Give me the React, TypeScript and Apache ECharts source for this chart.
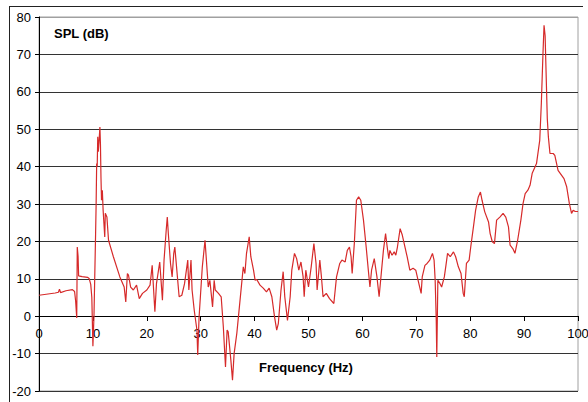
import React, { useEffect, useRef } from "react";
import * as echarts from "echarts";

const freq = [
  0, 1, 2, 3, 3.6, 3.8, 4.0, 5.0, 6.2, 6.6, 6.8, 7.0, 7.1, 7.25, 7.35, 8.0, 9.0, 9.3, 9.6, 9.8,
  10.0, 10.2, 10.5, 10.6, 10.7, 10.8, 10.9, 11.0, 11.15, 11.3, 11.4, 11.5, 11.6, 11.75, 11.9, 12.2, 12.3, 12.6, 12.9, 13.8,
  15.0, 15.8, 16.1, 16.4, 16.6, 17.0, 17.5, 18.1, 18.6, 19.2, 20.0, 20.6, 21.0, 21.5, 21.8, 22.4, 22.9, 23.2, 23.6, 23.8,
  24.0, 24.4, 24.7, 25.0, 25.2, 26.0, 26.5, 27.0, 27.6, 27.8, 28.2, 28.4, 28.8, 29.3, 29.45, 29.7, 30.3, 30.8, 31.1, 31.4,
  31.7, 32.2, 32.5, 32.7, 33.3, 33.8, 34.2, 34.6, 34.9, 35.1, 35.6, 35.9, 36.2, 36.7, 37.3, 37.9, 38.2, 38.5, 39.0, 39.3,
  39.8, 40.1, 40.4, 41.0, 41.6, 42.2, 42.7, 43.2, 43.7, 44.1, 44.4, 44.9, 45.3, 45.6, 46.1, 46.6, 46.9, 47.4, 47.8, 48.2,
  48.6, 49.0, 49.2, 49.5, 50.0, 50.5, 51.0, 51.4, 51.6, 52.1, 52.4, 52.7, 53.3, 53.9, 54.7, 55.2, 55.8, 56.2, 56.8, 57.2,
  57.6, 57.9, 58.1, 58.5, 58.9, 59.3, 59.7, 60.2, 60.7, 61.1, 61.4, 61.7, 62.2, 62.7, 63.1, 63.5, 63.9, 64.3, 64.6, 64.9,
  65.1, 65.5, 65.9, 66.2, 66.5, 67.0, 67.4, 67.9, 68.3, 68.8, 69.4, 69.9, 70.4, 70.9, 71.1, 71.6, 72.0, 72.5, 73.0, 73.3,
  73.5, 73.7, 73.8, 74.0, 74.4, 74.7, 75.2, 75.5, 75.8, 76.3, 76.9, 77.3, 77.8, 78.3, 78.7, 78.9, 79.3, 79.8, 80.1, 80.6,
  81.0, 81.5, 81.9, 82.2, 82.7, 83.4, 83.7, 84.1, 84.5, 84.9, 85.5, 86.1, 86.6, 87.1, 87.4, 87.9, 88.3, 88.8, 89.4, 89.8,
  90.2, 90.7, 91.1, 91.5, 91.9, 92.3, 92.9, 93.2, 93.5, 93.7, 93.9, 94.1, 94.3, 94.5, 94.8, 95.4, 95.7, 96.3, 96.7, 97.4,
  97.9, 98.4, 98.8, 99.1, 99.5, 100,
];

const spl = [
  5.6, 5.8, 6.0, 6.2, 6.4, 7.2, 6.3, 6.8, 7.1, 6.6, 4, -0.5, 18.5, 16, 10.8, 10.6, 10.4, 10.1, 8.5, 5,
  -8, 0, 22, 30, 40.8, 40, 48, 44, 47, 50.6, 46, 37, 31, 33.7, 28.3, 21.2, 27.5, 26.5, 20.3, 15.9,
  10.5, 7.8, 3.8, 11.4, 11, 7.8, 7, 8.3, 4.7, 6.1, 7, 8.3, 13.6, 1.2, 8.8, 14.5, 4.3, 15, 23, 26.5,
  22, 14.1, 10.5, 16.8, 18.5, 5.2, 5.6, 8.7, 15, 7, 15, 7, 1.6, -3.7, -10.4, -0.2, 13.2, 20.3, 14.1, 7.8,
  9.6, 2.5, 9.6, 7, 6.1, 5.2, -2.9, -13.6, -3.7, -4.2, -11.8, -17.1, -10, -4.6, 4.3, 13.2, 11.4, 16.8, 21.2, 15.9,
  12.3, 9.6, 9.8, 8.3, 7.5, 6.5, 7.5, 5.2, -0.2, -3.7, -2, 7, 11.9, 5.2, -1.1, 5.2, 12.3, 16.8, 15.4, 12.3,
  14.5, 10.5, 5.2, 12.3, 7.8, 13.2, 19.4, 14.1, 7, 15, 10.5, 5.2, 6.1, 4.7, 3.4, 10.5, 14.1, 15, 14.5, 17.6,
  18.5, 15.9, 11.4, 19.4, 31, 31.9, 31, 25.7, 18.5, 12.3, 7.8, 12.3, 15.4, 10.5, 5.2, 11.4, 17.6, 22.1, 18.5, 15.4,
  17.6, 16.3, 17.2, 16.3, 18.5, 23.4, 21.7, 18.5, 15.9, 12.3, 12.8, 12.3, 9.2, 6.1, 10.5, 13.6, 14.1, 15, 16.8, 15,
  9.6, -1.1, -10.9, 9.6, 8.7, 7.8, 10.5, 13.6, 16.8, 15.9, 17.2, 15.9, 13.2, 11.4, 6.1, 5.2, 14.1, 15, 18.5, 23.9,
  28.3, 31.9, 33.2, 31, 27.9, 25.2, 22.1, 19.9, 19.4, 25.7, 26.5, 27.5, 26.5, 23.9, 19, 18.1, 16.8, 20.3, 25.7, 30.1,
  32.8, 33.7, 35, 38.2, 39.5, 40.8, 47, 57, 70.2, 77.8, 75, 64, 52.9, 48, 43.5, 43.5, 43, 39, 38.2, 36.8,
  34.6, 30.1, 27.5, 28.3, 28, 28,
];

const yTitle = "SPL (dB)";
const xTitle = "Frequency (Hz)";

export default function App() {
  const ref = useRef<HTMLDivElement>(null);
  useEffect(() => {
    if (!ref.current) return;
    const chart = echarts.init(ref.current, undefined, { renderer: "svg" });
    const data = freq.map((f, i) => [f, spl[i]]);
    const font = "Arial, 'Liberation Sans', sans-serif";
    const gridColors = ["#333", "#333", "#333", "#333", "#333", "#333", "#333", "#333", "#333", "#333", "#a0a0a0"];
    chart.setOption({
      animation: false,
      backgroundColor: "#ffffff",
      grid: [
        {
          left: 39,
          top: 17,
          right: 10,
          bottom: 11,
          show: true,
          borderColor: "#a0a0a0",
          borderWidth: 1,
          backgroundColor: "transparent",
          containLabel: false,
          outerBoundsMode: "none",
        },
        {
          // upper part of the plot, ending at the zero line, carries the frequency axis
          left: 39,
          top: 17,
          right: 10,
          bottom: 86,
          show: false,
          containLabel: false,
          outerBoundsMode: "none",
        },
      ],
      xAxis: [
        {
          type: "value",
          gridIndex: 0,
          min: 0,
          max: 100,
          interval: 10,
          axisLine: { show: false },
          axisTick: { show: false },
          axisLabel: { show: false },
          splitLine: { show: false },
        },
        {
          type: "value",
          gridIndex: 1,
          position: "bottom",
          min: 0,
          max: 100,
          interval: 10,
          axisLine: { show: true, onZero: false, lineStyle: { color: "#000", width: 1 } },
          axisTick: { show: true, inside: false, length: 5, lineStyle: { color: "#000" } },
          axisLabel: { color: "#000", fontSize: 13, fontFamily: font, margin: 11 },
          splitLine: { show: false },
        },
      ],
      yAxis: [
        {
          type: "value",
          gridIndex: 0,
          min: -20,
          max: 80,
          interval: 10,
          axisLine: { show: true, onZero: false, lineStyle: { color: "#000", width: 1 } },
          axisTick: { show: true, inside: false, length: 4, lineStyle: { color: "#000" } },
          axisLabel: { color: "#000", fontSize: 13, fontFamily: font, margin: 8 },
          splitLine: { show: true, lineStyle: { color: gridColors, width: 1 } },
        },
        {
          type: "value",
          gridIndex: 1,
          min: 0,
          max: 80,
          show: false,
        },
      ],
      series: [
        {
          type: "line",
          xAxisIndex: 0,
          yAxisIndex: 0,
          data,
          showSymbol: false,
          symbol: "none",
          lineStyle: { color: "#d62a2a", width: 1.2 },
          z: 5,
        },
      ],
      graphic: [
        {
          type: "line",
          shape: { x1: 9, y1: 6.5, x2: 583, y2: 6.5 },
          style: { stroke: "#222", lineWidth: 1 },
          silent: true,
        },
        {
          type: "line",
          shape: { x1: 9.5, y1: 6, x2: 9.5, y2: 402 },
          style: { stroke: "#222", lineWidth: 1 },
          silent: true,
        },
        {
          type: "text",
          x: 54,
          y: 33,
          style: {
            text: yTitle,
            font: `bold 13px ${font}`,
            fill: "#000",
            textVerticalAlign: "middle",
            verticalAlign: "middle",
          },
          z: 10,
        },
        {
          type: "text",
          x: 306,
          y: 367,
          style: {
            text: xTitle,
            font: `bold 13px ${font}`,
            fill: "#000",
            align: "center",
            textAlign: "center",
            verticalAlign: "middle",
            textVerticalAlign: "middle",
          },
          z: 10,
        },
      ],
    });
    return () => chart.dispose();
  }, []);
  return (
    <div
      ref={ref}
      style={{ position: "fixed", left: 0, top: 0, width: 588, height: 402, background: "#fff" }}
    />
  );
}
